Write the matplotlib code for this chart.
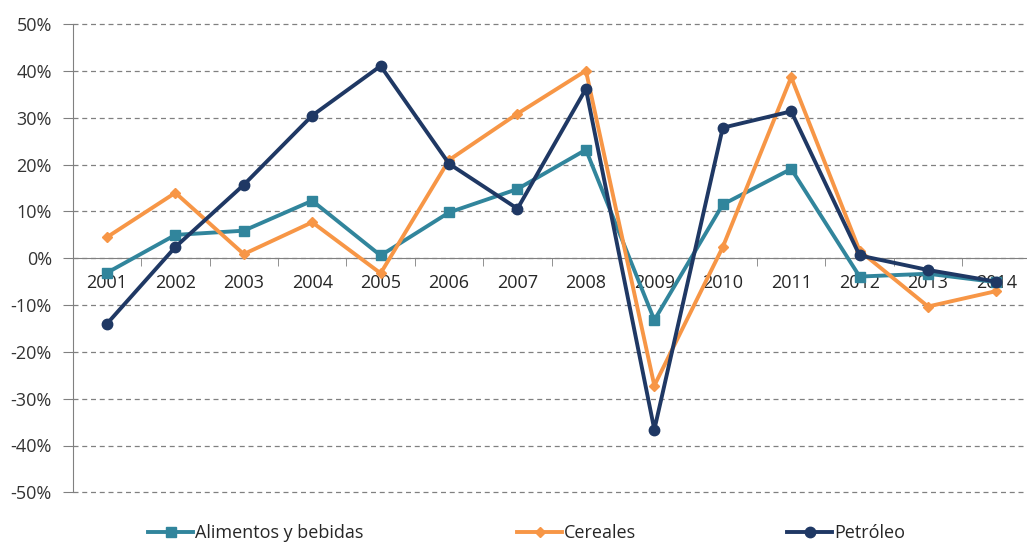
import matplotlib.pyplot as plt
from matplotlib.ticker import FixedLocator, FuncFormatter

# Datos (variación anual, %)
years = ["2001", "2002", "2003", "2004", "2005", "2006", "2007",
         "2008", "2009", "2010", "2011", "2012", "2013", "2014"]
alimentos = [-3.1, 5.0, 5.9, 12.3, 0.6, 9.8, 14.8, 23.2, -13.2, 11.5, 19.1, -3.9, -3.3, -5.1]
cereales = [4.5, 14.0, 0.9, 7.7, -3.2, 21.0, 30.9, 40.1, -27.2, 2.4, 38.7, 1.6, -10.3, -7.0]
petroleo = [-14.0, 2.4, 15.7, 30.5, 41.1, 20.2, 10.6, 36.2, -36.6, 27.9, 31.4, 0.6, -2.5, -5.0]

plt.rcParams['font.family'] = ['Open Sans', 'DejaVu Sans']

fig = plt.figure(figsize=(10.27, 5.43), dpi=100)
W, H = 1027, 543
# el área del gráfico se sale un poco por la derecha, como en el original
ax = fig.add_axes([72.7 / W, 1 - 492.3 / H, 958 / W, (492.3 - 24.3) / H])

x = list(range(len(years)))
l1, = ax.plot(x, alimentos, color='#31859C', lw=2.8, marker='s', ms=7, label='Alimentos y bebidas', zorder=3)
l2, = ax.plot(x, cereales, color='#F79646', lw=2.8, marker='D', ms=5, label='Cereales', zorder=4)
l3, = ax.plot(x, petroleo, color='#1F3864', lw=2.8, marker='o', ms=7.5, label='Petróleo', zorder=5)

ax.set_xlim(-0.5, len(years) - 0.5)
ax.set_ylim(-50, 50)
ax.set_yticks(range(-50, 51, 10))
ax.yaxis.set_major_formatter(FuncFormatter(lambda v, p: f"{int(v)}%"))
ax.grid(axis='y', color='#808080', ls=(0, (4, 3)), lw=0.9, zorder=0)
for gl in ax.get_ygridlines():
    gl.set_clip_on(False)
ax.tick_params(axis='y', length=7, color='#808080', labelsize=13, pad=8, labelcolor='#333333')

ax.spines['bottom'].set_position(('data', 0))
for s in ['top', 'right']:
    ax.spines[s].set_visible(False)
for s in ['left', 'bottom']:
    ax.spines[s].set_color('#808080')
ax.set_xticks(x)
ax.set_xticklabels(years)
ax.xaxis.set_minor_locator(FixedLocator([i + 0.5 for i in x]))
ax.tick_params(axis='x', which='major', length=0, labelsize=13, pad=11, labelcolor='#262626')
ax.tick_params(axis='x', which='minor', length=6, color='#808080')

# una leyenda por serie, repartidas como en el original
for h, x0 in [(l1, 148), (l2, 517), (l3, 787)]:
    fig.legend(handles=[h], loc='center left', bbox_to_anchor=(x0 / W, 1 - 533 / H),
               frameon=False, fontsize=13, handlelength=2.5, handletextpad=0.1,
               borderpad=0, borderaxespad=0, labelcolor='#262626')

fig.savefig("out.png", dpi=100)
